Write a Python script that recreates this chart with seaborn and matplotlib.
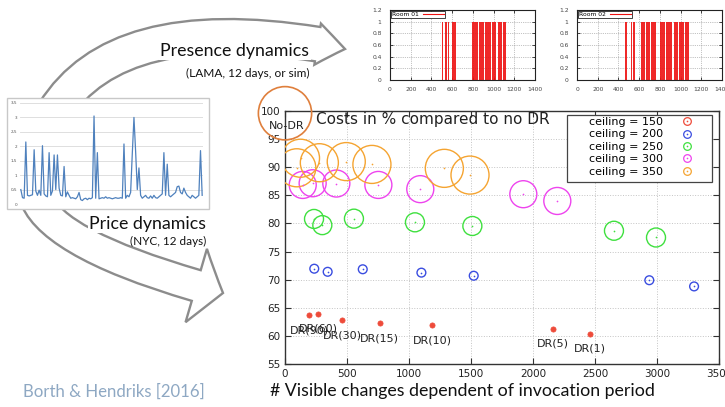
import numpy as np
import pandas as pd
import matplotlib
matplotlib.use("Agg")
import matplotlib.pyplot as plt
import seaborn as sns
from matplotlib.patches import FancyArrowPatch, Rectangle
from matplotlib.lines import Line2D
from matplotlib.legend_handler import HandlerTuple

# ------------------------------------------------------------------ data
dr_labels = ["DR(90)", "DR(60)", "DR(30)", "DR(15)", "DR(10)", "DR(5)", "DR(1)"]
ceiling_labels = ["ceiling = 150", "ceiling = 200", "ceiling = 250",
                  "ceiling = 300", "ceiling = 350"]

x_c150 = [194, 269, 460, 763, 1186, 2164, 2457]
y_c150 = [63.7, 63.95, 62.8, 62.3, 61.9, 61.3, 60.4]
x_c200 = [236, 344, 627, 1100, 1522, 2938, 3299]
y_c200 = [71.95, 71.4, 71.85, 71.25, 70.7, 69.9, 68.8]
x_c250 = [234, 301, 556, 1048, 1511, 2653, 2992]
y_c250 = [80.8, 79.7, 80.85, 80.2, 79.55, 78.7, 77.5]
x_c300 = [143, 223, 414, 753, 1091, 1922, 2196]
y_c300 = [86.85, 87.15, 87.1, 86.85, 86.1, 85.2, 84.0]
x_c350 = [95, 125, 277, 494, 701, 1285, 1492]
y_c350 = [89.9, 91.6, 90.8, 91.0, 90.5, 89.8, 88.6]
nodr_x = [0]
nodr_y = [99.6]
nodr_label = "No-DR"

x_ticks = [0, 500, 1000, 1500, 2000, 2500, 3000, 3500]
y_ticks = [55, 60, 65, 70, 75, 80, 85, 90, 95, 100]

# price dynamics (NYC, 12 days)
price = [0.5, 0.22, 0.2, 2.15, 0.3, 0.28, 0.3, 0.32, 1.88, 0.45,
         0.3, 0.48, 0.3, 2.02, 0.35, 0.28, 0.25, 1.78, 0.3, 0.45,
         1.7, 0.5, 1.7, 0.55, 0.3, 0.28, 1.3, 0.25, 0.42, 0.3,
         0.2, 0.22, 0.2, 0.18, 0.25, 0.4, 0.15, 0.12, 0.18, 0.2,
         0.15, 0.2, 0.18, 0.22, 3.05, 0.2, 1.78, 0.18, 0.2, 0.22,
         0.2, 0.25, 0.2, 0.22, 0.2, 0.18, 0.2, 0.22, 0.2, 0.2,
         0.22, 0.2, 2.08, 0.2, 0.3, 0.25, 0.4, 1.75, 3.0, 1.82,
         0.5, 1.25, 0.3, 0.2, 0.25, 0.3, 0.22, 0.2, 0.28, 0.2,
         0.3, 0.22, 0.2, 0.25, 0.3, 0.35, 1.78, 0.3, 1.38, 0.3,
         0.25, 0.3, 0.35, 0.4, 0.6, 0.62, 0.4, 0.35, 0.55, 0.4,
         0.3, 0.25, 0.2, 0.3, 0.25, 0.2, 0.25, 0.3, 1.85, 0.3]
price_ticks = [0, 0.5, 1, 1.5, 2, 2.5, 3, 3.5]
price_ticklabels = ["0", "0,5", "1", "1,5", "2", "2,5", "3", "3,5"]

# presence dynamics: occupied intervals (start, end)
room1_start = [500, 532, 558, 597, 790, 855, 915, 988, 1038, 1092]
room1_end = [516, 548, 574, 640, 845, 905, 972, 1028, 1078, 1120]
room2_start = [463, 518, 545, 615, 665, 712, 802, 858, 932, 985, 1040]
room2_end = [480, 532, 560, 655, 700, 764, 850, 916, 975, 1030, 1078]
room_labels = ["Room 01", "Room 02"]
room_xticks = [0, 200, 400, 600, 800, 1000, 1200, 1400]
room_yticks = [0, 0.2, 0.4, 0.6, 0.8, 1, 1.2]
room_yticklabels = ["0", "0.2", "0.4", "0.6", "0.8", "1", "1.2"]

# ------------------------------------------------------------------ styles
C150, C200, C250, C300, C350 = "#ee4b3a", "#3a4de0", "#3fe03f", "#ee44ee", "#f5a431"
C_NODR = "#df7f3c"
SLIDE_FONT = ["Lato", "DejaVu Sans"]

W, H = 725, 407
fig = plt.figure(figsize=(W / 100, H / 100), dpi=100)
fig.patch.set_facecolor("white")


def rect(l, t, r, b):
    return [l / W, 1 - b / H, (r - l) / W, (b - t) / H]


# ------------------------------------------------------------------ background (arrows, slide text)
bg = fig.add_axes([0, 0, 1, 1])
bg.set_xlim(0, W)
bg.set_ylim(H, 0)
bg.axis("off")

arrow_kw = dict(mutation_scale=1, fc="white", ec="#8c8c8c", lw=1.7,
                shrinkA=0, shrinkB=0, joinstyle="miter")
arr1 = FancyArrowPatch((54, 112), (345, 49),
                       arrowstyle="simple,head_width=30,head_length=20,tail_width=25",
                       connectionstyle="angle3,angleA=58,angleB=-11", zorder=1, **arrow_kw)
bg.add_patch(arr1)
arr2 = FancyArrowPatch((35, 195), (223, 293),
                       arrowstyle="simple,head_width=55,head_length=20,tail_width=23",
                       connectionstyle="angle3,angleA=-75,angleB=-15", zorder=1, **arrow_kw)
bg.add_patch(arr2)
# white area of the presence plot pictures
bg.add_patch(Rectangle((360, 0), 365, 100, fc="white", ec="none", zorder=2))
# frame of the price picture
bg.add_patch(Rectangle((7, 98), 202, 111, fc="white", ec="#c8c8c8", lw=1, zorder=2))

bg.text(235, 51, "Presence dynamics", fontsize=12.8, family=SLIDE_FONT, ha="center", va="center",
        color="#111", zorder=3, bbox=dict(fc="white", ec="none", pad=1))
bg.text(310, 73, "(LAMA, 12 days, or sim)", fontsize=8.6, family=SLIDE_FONT, ha="right",
        va="center", color="#111", zorder=3)
bg.text(206, 224, "Price dynamics", fontsize=12.8, family=SLIDE_FONT, ha="right", va="center",
        color="#111", zorder=3, bbox=dict(fc="white", ec="none", pad=1))
bg.text(206, 241, "(NYC, 12 days)", fontsize=8.5, family=SLIDE_FONT, ha="right", va="center",
        color="#111", zorder=3)
bg.text(23, 392, "Borth & Hendriks [2016]", fontsize=12.1, family=SLIDE_FONT, ha="left",
        va="center", color="#8ea8c3", zorder=3)
bg.text(270, 391, "# Visible changes dependent of invocation period", fontsize=12.8,
        family=SLIDE_FONT, ha="left", va="center", color="#111", zorder=3)

# ------------------------------------------------------------------ price inset
axp = fig.add_axes(rect(20, 103, 203, 204))
axp.set_facecolor("none")
sns.lineplot(x=np.arange(len(price)), y=price, ax=axp, color="#4f81bd", lw=0.9)
axp.set_xlim(-0.5, len(price) - 0.5)
axp.set_ylim(0, 3.5)
axp.set_yticks(price_ticks)
axp.set_yticklabels(price_ticklabels)
axp.set_xticks([])
axp.grid(axis="y", color="#d9d9d9", lw=0.6)
axp.tick_params(axis="y", length=0, labelsize=3, labelcolor="#555", pad=2)
for s in axp.spines.values():
    s.set_visible(False)
axp.set_axisbelow(True)

# ------------------------------------------------------------------ presence insets
for label, starts, ends, box in [(room_labels[0], room1_start, room1_end, (390, 10, 535, 80)),
                                  (room_labels[1], room2_start, room2_end, (577, 10, 722, 80))]:
    a = fig.add_axes(rect(*box))
    a.set_facecolor("white")
    widths = [e - s for s, e in zip(starts, ends)]
    a.bar(starts, [1] * len(starts), width=widths, align="edge", color="#ee1111",
          linewidth=0, alpha=0.9, zorder=2)
    a.plot([], [], color="#ee1111", lw=0.8, label=label)
    a.set_xlim(0, 1400)
    a.set_ylim(0, 1.2)
    a.set_xticks(room_xticks)
    a.set_yticks(room_yticks)
    a.set_yticklabels(room_yticklabels)
    a.grid(True, ls=":", color="#888", lw=0.5)
    a.tick_params(direction="in", labelsize=4.3, length=2, width=0.5, top=True, right=True,
                  labelcolor="#444")
    a.tick_params(axis="x", pad=5)
    a.tick_params(axis="y", pad=6)
    for s in a.spines.values():
        s.set_linewidth(0.8)
        s.set_color("#222")
    lg = a.legend(loc="upper left", fontsize=4.3, handlelength=3.5, markerfirst=False,
                  borderpad=0.15, borderaxespad=0.15, fancybox=False, framealpha=1,
                  handletextpad=0.8)
    lg.get_frame().set_edgecolor("#222")
    lg.get_frame().set_linewidth(0.6)

# ------------------------------------------------------------------ main chart
ax = fig.add_axes(rect(285, 111, 719, 364))
ax.set_facecolor("white")
ax.set_xlim(0, 3500)
ax.set_ylim(55, 100)
ax.set_xticks(x_ticks)
ax.set_yticks(y_ticks)
ax.grid(True, ls=":", color="#c4c4c4", lw=0.7)
ax.set_axisbelow(True)
ax.tick_params(direction="in", top=True, right=True, length=4, width=0.8,
               labelsize=7.5, color="#333", labelcolor="#222")
for s in ax.spines.values():
    s.set_color("#333")
    s.set_linewidth(1)

ring_series = [(x_c200, y_c200, C200, 40), (x_c250, y_c250, C250, 187),
               (x_c300, y_c300, C300, 378), (x_c350, y_c350, C350, 750)]
for xs, ys, col, size in ring_series:
    sns.scatterplot(x=xs, y=ys, ax=ax, s=size, marker="o", facecolor="none",
                    edgecolor=col, linewidth=1.0, zorder=3, legend=False)
    sns.scatterplot(x=xs, y=ys, ax=ax, s=1.5, color=col, linewidth=0, zorder=4, legend=False)

sns.scatterplot(x=x_c150, y=y_c150, ax=ax, s=14, color=C150, edgecolor=C150,
                linewidth=0.5, zorder=4, legend=False)

# No-DR reference point (drawn beyond the frame)
ax.scatter(nodr_x, nodr_y, s=1470, facecolor="none", edgecolor=C_NODR,
           linewidth=1.2, zorder=5, clip_on=False)
ax.text(nodr_x[0], nodr_y[0], nodr_label, fontsize=8, ha="center", va="top",
        color="#222", zorder=6, clip_on=False,
        transform=ax.transData + matplotlib.transforms.ScaledTranslation(2 / 100, -8 / 100, fig.dpi_scale_trans))

for lbl, xv, yv in zip(dr_labels, x_c150, y_c150):
    ax.annotate(lbl, (xv, yv), xytext=(0, -11), textcoords="offset points",
                ha="center", va="center", fontsize=8, color="#222", zorder=6)

ax.text(0.072, 0.965, "Costs in % compared to no DR", transform=ax.transAxes,
        fontsize=11, ha="left", va="center", color="#222", zorder=6)

# gnuplot-like key
ax.add_patch(Rectangle(((567 - 285) / 434, (364 - 182) / 253), 145 / 434, 67 / 253,
                       transform=ax.transAxes, fc="white", ec="#444", lw=0.9, zorder=6))
handles = []
for col in [C150, C200, C250, C300, C350]:
    ring = Line2D([], [], marker="o", ls="none", ms=5.5, mfc="none", mec=col, mew=0.9)
    dot = Line2D([], [], marker="o", ls="none", ms=1.2, mfc=col, mec=col, mew=0)
    handles.append((ring, dot))
leg = ax.legend(handles, ceiling_labels, handler_map={tuple: HandlerTuple(ndivide=1)},
                loc="upper right", bbox_to_anchor=((696 - 285) / 434, (364 - 117) / 253),
                borderaxespad=0, borderpad=0, frameon=False, markerfirst=False,
                fontsize=8, handlelength=1.6, handletextpad=1.4, labelspacing=0.22)
leg.set_zorder(7)

fig.savefig("out.png", dpi=100, facecolor="white")
